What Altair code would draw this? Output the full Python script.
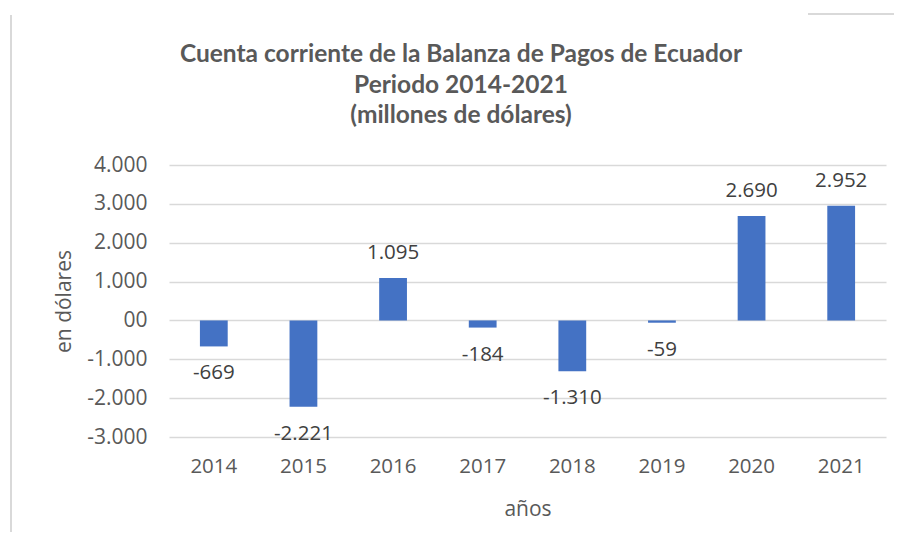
import altair as alt
import pandas as pd

anios = ["2014", "2015", "2016", "2017", "2018", "2019", "2020", "2021"]
valores = [-669, -2221, 1095, -184, -1310, -59, 2690, 2952]
ticks_y = [-3000, -2000, -1000, 0, 1000, 2000, 3000, 4000]
titulo = ["Cuenta corriente de la Balanza de Pagos de Ecuador",
          "Periodo 2014-2021",
          "(millones de dólares)"]
titulo_y = [-103, -72, -42]

df = pd.DataFrame({"anio": anios, "valor": valores})

FMT = "replace(replace(format(datum.valor, ','), ',', '.'), '\u2212', '-')"
LBL = "datum.value == 0 ? '00' : replace(replace(format(datum.value, ','), ',', '.'), '\u2212', '-')"

base = alt.Chart(df)

x_enc = alt.X("anio:N", sort=anios,
              scale=alt.Scale(paddingInner=0.69, paddingOuter=0.345),
              axis=alt.Axis(title="años", labelAngle=0, domain=False, ticks=False,
                            labelPadding=19, labelFont="Open Sans", labelFontSize=20.5,
                            labelColor="#595959", titleFont="Open Sans", titleFontSize=21,
                            titleFontWeight="normal", titleColor="#595959",
                            titleY=72, titleBaseline="middle"))
y_enc = alt.Y("valor:Q",
              scale=alt.Scale(domain=[-3000, 4000], nice=False, zero=False),
              axis=alt.Axis(title="en dólares", values=ticks_y, labelExpr=LBL,
                            labelOverlap=False, labelBound=False,
                            domain=False, ticks=False, labelPadding=22,
                            labelFont="Open Sans", labelFontSize=21, labelColor="#595959",
                            gridColor="#d9d9d9", gridWidth=1.3,
                            titleFont="Open Sans", titleFontSize=21, titleFontWeight="normal",
                            titleColor="#595959", titleX=-105, titleY=136,
                            titleAngle=270, titleAlign="center", titleBaseline="middle"))

bars = base.mark_bar(color="#4472C4").encode(x=x_enc, y=y_enc)

pos = base.transform_filter("datum.valor >= 0").transform_calculate(
    lab=FMT).mark_text(dy=-25, baseline="middle", font="Open Sans", fontSize=20.5,
                       color="#404040").encode(x=x_enc, y=y_enc, text="lab:N")
neg = base.transform_filter("datum.valor < 0").transform_calculate(
    lab=FMT).mark_text(dy=27, baseline="middle", font="Open Sans", fontSize=20.5,
                       color="#404040").encode(x=x_enc, y=y_enc, text="lab:N")

one = alt.Data(values=[{"k": 1}])
title_layers = [
    alt.Chart(one).mark_text(font="Lato", fontSize=24.5, fontWeight="bold",
                             color="#595959", align="center",
                             baseline="alphabetic").encode(
        x=alt.value(292), y=alt.value(ty), text=alt.value(t))
    for t, ty in zip(titulo, titulo_y)
]

left_line = alt.Chart(one).mark_rule(color="#d9d9d9", strokeWidth=2).encode(
    x=alt.value(-158), y=alt.value(-150), y2=alt.value(400))
top_line = alt.Chart(one).mark_rule(color="#d9d9d9", strokeWidth=2).encode(
    x=alt.value(639), x2=alt.value(740), y=alt.value(-151))

chart = alt.layer(bars, pos, neg, *title_layers, left_line, top_line).properties(
    width=717, height=272,
    background="white",
    autosize=alt.AutoSizeParams(type="none"),
    padding={"left": 161, "top": 157, "right": 8, "bottom": 95},
).configure_view(strokeWidth=0)

chart.save("out.html", embed_options={"renderer": "svg", "actions": False})
